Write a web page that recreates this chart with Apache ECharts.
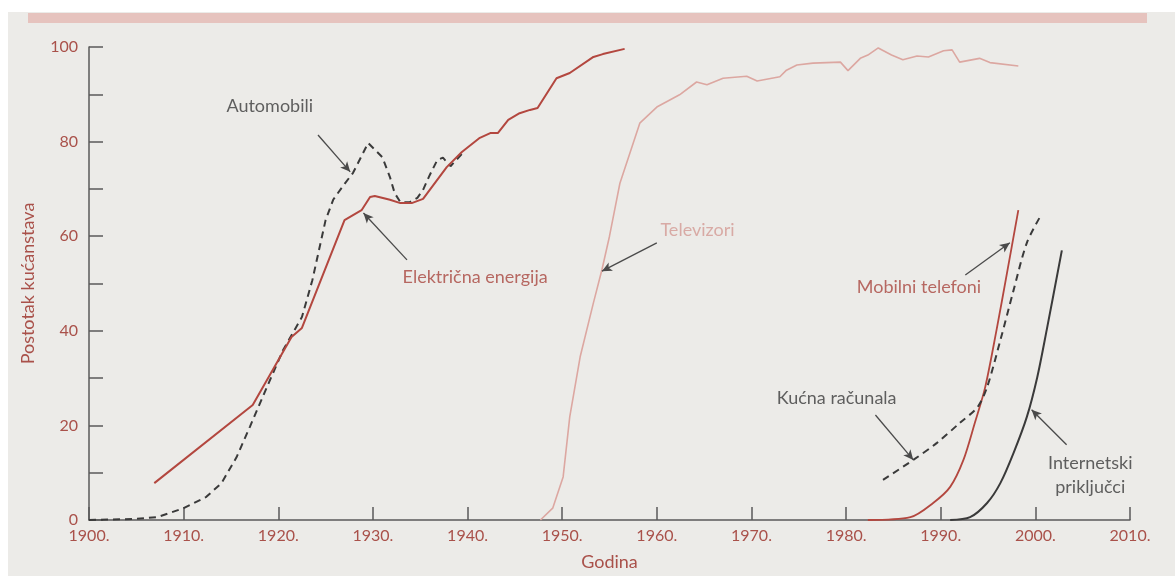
<!DOCTYPE html>
<html>
<head>
<meta charset="utf-8">
<script src="https://cdn.jsdelivr.net/npm/echarts@6/dist/echarts.min.js"></script>
<style>
  html, body { margin: 0; padding: 0; background: #fff; }
  #chart { width: 1175px; height: 576px; }
</style>
</head>
<body>
<div id="chart"></div>
<script>
// godina, postotak kućanstava
const elektricna = [
  [1906.9, 7.8], [1917.3, 24.3], [1921.4, 38.7], [1922.5, 40.6], [1927, 63.4],
  [1928.8, 65.5], [1929.7, 68.3], [1930.2, 68.5], [1931.8, 67.7], [1932.9, 67],
  [1934.1, 67], [1935.3, 67.9], [1937.8, 74.6], [1939.4, 77.8], [1941.3, 80.8],
  [1942.4, 81.8], [1943.2, 81.8], [1944.3, 84.6], [1945.5, 86], [1946.6, 86.7],
  [1947.4, 87.1], [1949.4, 93.4], [1950.8, 94.5], [1953.3, 97.9], [1954.3, 98.5],
  [1956.6, 99.6]
];
const automobili = [
  [1900, 0], [1904.7, 0.2], [1907.2, 0.6], [1910, 2.5], [1912.4, 4.9], [1914, 7.8],
  [1915.6, 13.3], [1917, 19.7], [1918.8, 28.1], [1920.5, 35.9], [1922.5, 42.9],
  [1923.6, 50.7], [1925, 63.4], [1925.8, 67.7], [1926.9, 70.8], [1927.9, 73.4],
  [1929.5, 79.7], [1931, 76.7], [1931.8, 72.5], [1932.3, 69.1], [1932.9, 67.2],
  [1933.9, 67.2], [1934.7, 68.1], [1935.3, 69.8], [1936, 72.9], [1936.8, 76.1],
  [1937.4, 76.6], [1938.2, 74.8], [1939.5, 77.6]
];
const televizori = [
  [1947.7, 0], [1949, 2.5], [1950.1, 9.1], [1950.8, 21.8], [1951.9, 34.5],
  [1953.3, 45.9], [1954.2, 52.9], [1955, 60], [1956.1, 71.2], [1958.2, 83.9],
  [1960, 87.3], [1962.4, 89.9], [1964.2, 92.6], [1965.3, 92], [1967, 93.4],
  [1969.5, 93.8], [1970.6, 92.8], [1973, 93.7], [1973.7, 95.1], [1974.8, 96.2],
  [1976.5, 96.6], [1979.4, 96.8], [1980.2, 95], [1981.5, 97.6], [1982.3, 98.3],
  [1983.4, 99.8], [1984.8, 98.3], [1986, 97.3], [1987.5, 98.1], [1988.7, 97.9],
  [1990.3, 99.2], [1991.2, 99.4], [1992, 96.8], [1994.1, 97.6], [1995.2, 96.7],
  [1998.2, 96]
];
const mobilni = [
  [1982.3, 0], [1986.8, 0.6], [1989.2, 3.6], [1991, 7], [1992.4, 12.7],
  [1993.6, 20.5], [1994.7, 28.1], [1995.9, 40.2], [1997, 52.2], [1998.2, 65.5]
];
const racunala = [
  [1983.9, 8.5], [1987.1, 12.7], [1989.6, 16.3], [1992, 20.5], [1993.9, 23.9],
  [1994.9, 28.1], [1996.3, 38], [1997.7, 48.6], [1999.1, 58.6], [2000.5, 64.1]
];
const internet = [
  [1991, 0], [1993.1, 0.6], [1994.9, 3.6], [1996.3, 7.8], [1997.7, 14.2],
  [1999.1, 21.8], [2000.2, 30.2], [2001.2, 40.2], [2002.8, 57]
];

// natpisi: [godina, postotak, tekst, boja]
const natpisi = [
  [1919.1, 87.5, 'Automobili', '#3b3b3b'],
  [1940.8, 51.4, 'Električna energija', '#a9463f'],
  [1964.3, 61.3, 'Televizori', '#d39a94'],
  [1987.7, 49.3, 'Mobilni telefoni', '#a9463f'],
  [1979, 25.8, 'Kućna računala', '#3b3b3b'],
  [2005.8, 9.5, 'Internetski\npriključci', '#3b3b3b']
];
// strelice: od [godina, postotak] do [godina, postotak]
const strelice = [
  [[1924.2, 81.4], [1927.6, 73.6]],
  [[1933.6, 55], [1929, 64.9]],
  [[1960, 58.6], [1954.2, 52.6]],
  [[1992.6, 51.8], [1997.3, 58.6]],
  [[1983.1, 22.2], [1987.1, 12.7]],
  [[2003.3, 15.9], [1999.6, 23.3]]
];

const crvena = '#b3473f';
const tamna = '#3a3a3a';
const font = 'Lato, "Open Sans", sans-serif';

const chart = echarts.init(document.getElementById('chart'));

const line = (name, data, color, width, dashed, smooth) => ({
  name: name,
  type: 'line',
  data: data,
  symbol: 'none',
  smooth: smooth ? 0.3 : false,
  lineStyle: {color: color, width: width, type: dashed ? [7, 5] : 'solid'},
  silent: true
});

chart.setOption({
  animation: false,
  backgroundColor: '#ecebe8',
  textStyle: {fontFamily: font},
  graphic: [
    {type: 'rect', shape: {x: 0, y: 0, width: 1175, height: 12}, style: {fill: '#fff'}},
    {type: 'rect', shape: {x: 0, y: 0, width: 8, height: 576}, style: {fill: '#fff'}},
    {type: 'rect', shape: {x: 28, y: 13, width: 1119, height: 10}, style: {fill: '#e6c3be'}}
  ],
  grid: {left: 89, right: 45, top: 47, bottom: 56},
  xAxis: {
    type: 'value',
    min: 1900,
    max: 2010,
    interval: 10,
    name: 'Godina',
    nameLocation: 'middle',
    nameGap: 33,
    nameTextStyle: {color: '#a9514a', fontSize: 18, fontFamily: font},
    axisLine: {lineStyle: {color: '#5a5a5a', width: 1.5}},
    axisTick: {inside: true, length: 13, lineStyle: {color: '#5a5a5a', width: 1.5}},
    axisLabel: {color: '#a9514a', fontSize: 16, margin: 8, formatter: v => v + '.'},
    splitLine: {show: false}
  },
  yAxis: {
    type: 'value',
    min: 0,
    max: 100,
    interval: 10,
    name: 'Postotak kućanstava',
    nameLocation: 'middle',
    nameGap: 52,
    nameTextStyle: {color: '#a9514a', fontSize: 18, fontFamily: font},
    axisLine: {show: true, lineStyle: {color: '#5a5a5a', width: 1.5}},
    axisTick: {show: true, inside: true, length: 14, lineStyle: {color: '#5a5a5a', width: 1.5}},
    axisLabel: {color: '#a9514a', fontSize: 16, margin: 11, formatter: v => (v % 20 === 0 ? String(v) : '')},
    splitLine: {show: false}
  },
  series: [
    line('Televizori', televizori, '#dca7a1', 1.6, false, false),
    line('Automobili', automobili, tamna, 2, true, false),
    line('Električna energija', elektricna, crvena, 2, false, false),
    line('Mobilni telefoni', mobilni, crvena, 1.8, false, true),
    line('Kućna računala', racunala, tamna, 2, true, true),
    line('Internetski priključci', internet, tamna, 2, false, true),
    {
      type: 'scatter',
      silent: true,
      symbolSize: 0,
      data: natpisi.map(n => ({value: [n[0], n[1]], name: n[2], label: {color: n[3]}})),
      label: {
        show: true,
        position: 'inside',
        formatter: p => p.name,
        fontSize: 18,
        lineHeight: 24,
        align: 'center',
        verticalAlign: 'middle',
        fontFamily: font
      },
      markLine: {
        silent: true,
        symbol: ['none', 'arrow'],
        symbolSize: [7, 10],
        label: {show: false},
        lineStyle: {color: '#4a4a4a', width: 1.3, type: 'solid'},
        data: strelice.map(s => [{coord: s[0]}, {coord: s[1]}])
      }
    }
  ]
});
</script>
</body>
</html>
